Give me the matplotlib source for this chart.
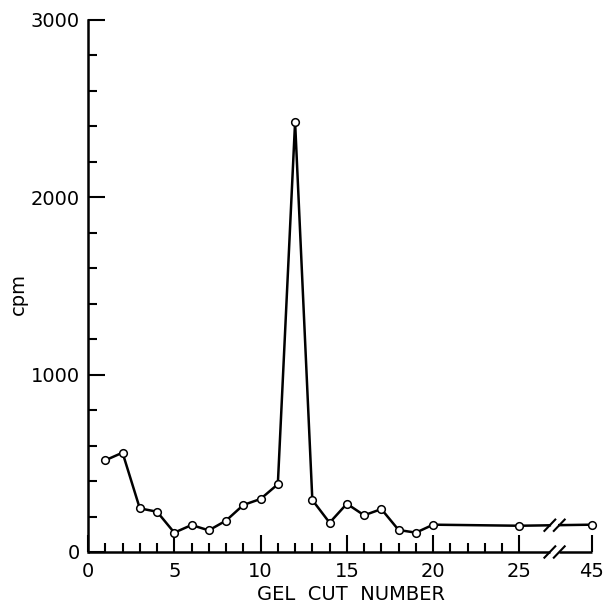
import numpy as np
import matplotlib
matplotlib.use("Agg")
from matplotlib import pyplot as plt

# gel cut number vs counts
cut = [1, 2, 3, 4, 5, 6, 7, 8, 9, 10, 11, 12, 13, 14, 15, 16, 17, 18, 19, 20, 25, 45]
cpm = [517, 560, 246, 227, 109, 152, 122, 177, 265, 299, 382, 2425,
       293, 165, 272, 207, 242, 124, 109, 154, 148, 154]

x_ticks = [0, 5, 10, 15, 20, 25, 45]
y_ticks = [0, 1000, 2000, 3000]

# everything past 25 is squeezed into a short stretch after the axis break
SQUEEZE = 0.21


def fwd(x):
    x = np.asarray(x, dtype=float)
    return np.where(x <= 25, x, 25 + (x - 25) * SQUEEZE)


def inv(u):
    u = np.asarray(u, dtype=float)
    return np.where(u <= 25, u, 25 + (u - 25) / SQUEEZE)


plt.rcParams["font.family"] = ["DejaVu Sans"]

fig = plt.figure(figsize=(6.05, 6.04), dpi=100)
ax = fig.add_axes([0.1455, 0.0861, 0.834, 0.881])
ax.set_xscale("function", functions=(fwd, inv))
ax.set_xlim(0, 45.2)
ax.set_ylim(0, 3000)

# data with a gap in the line at the break
brk_lo, brk_hi = 33.4, 36.0
lw = 1.8
y_lo = cpm[20] + (cpm[21] - cpm[20]) * (brk_lo - 25) / 20
y_hi = cpm[20] + (cpm[21] - cpm[20]) * (brk_hi - 25) / 20
ax.plot(cut[:21] + [brk_lo], cpm[:21] + [y_lo],
        color="black", lw=lw, clip_on=False, zorder=3)
ax.plot([brk_hi, 45], [y_hi, cpm[21]],
        color="black", lw=lw, clip_on=False, zorder=3)
ax.plot(cut, cpm, linestyle="none", marker="o", ms=5.5, mfc="white",
        mec="black", mew=1.1, clip_on=False, zorder=4)

# spines: only left, bottom drawn by hand with the break
for s in ["top", "right", "bottom"]:
    ax.spines[s].set_visible(False)
ax.spines["left"].set_linewidth(1.8)
ax.plot([0, brk_lo], [0, 0], color="black", lw=1.8, clip_on=False,
        solid_capstyle="butt")
ax.plot([brk_hi, 45], [0, 0], color="black", lw=1.8, clip_on=False,
        solid_capstyle="butt")

# slash marks on the axis and on the line
for yc in [0, (y_lo + y_hi) / 2]:
    for xc in [brk_lo, brk_hi]:
        ax.plot([xc - 1.5, xc + 1.5], [yc - 32, yc + 32], color="black",
                lw=1.5, clip_on=False, zorder=5)

ax.set_xticks(x_ticks)
ax.set_xticks(list(range(1, 25)), minor=True)
ax.set_yticks(y_ticks)
ax.set_yticks(np.arange(0, 3001, 200), minor=True)
ax.set_xticklabels([str(t) for t in x_ticks])
ax.set_yticklabels([str(t) for t in y_ticks])

ax.tick_params(which="both", direction="in", width=1.5, labelsize=14, color="black")
ax.tick_params(which="major", length=12)
ax.tick_params(which="minor", length=6.5)
ax.tick_params(axis="x", pad=7)
ax.tick_params(axis="y", pad=6)

ax.set_xlabel("GEL  CUT  NUMBER", fontsize=14, labelpad=3, x=0.522)
ax.set_ylabel("cpm", fontsize=14, labelpad=2, y=0.485)

fig.savefig("out.png", dpi=100)
